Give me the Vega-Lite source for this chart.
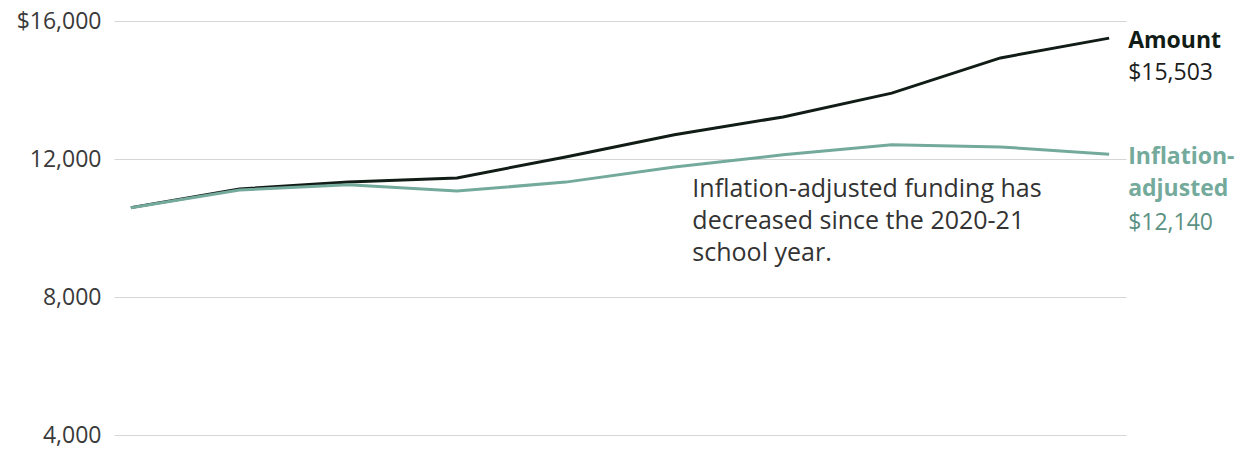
{
  "$schema": "https://vega.github.io/schema/vega-lite/v6.json",
  "width": 1012,
  "height": 414,
  "autosize": {"type": "none"},
  "padding": {"left": 114, "top": 21, "right": 113, "bottom": 14},
  "background": "white",
  "config": {
    "view": {"stroke": null},
    "font": "Open Sans",
    "text": {"font": "Open Sans"}
  },
  "data": {
    "values": [
      {"year": "2013-14", "series": "Amount", "value": 10590},
      {"year": "2014-15", "series": "Amount", "value": 11130},
      {"year": "2015-16", "series": "Amount", "value": 11330},
      {"year": "2016-17", "series": "Amount", "value": 11450},
      {"year": "2017-18", "series": "Amount", "value": 12060},
      {"year": "2018-19", "series": "Amount", "value": 12700},
      {"year": "2019-20", "series": "Amount", "value": 13220},
      {"year": "2020-21", "series": "Amount", "value": 13910},
      {"year": "2021-22", "series": "Amount", "value": 14930},
      {"year": "2022-23", "series": "Amount", "value": 15503},
      {"year": "2013-14", "series": "Inflation-adjusted", "value": 10590},
      {"year": "2014-15", "series": "Inflation-adjusted", "value": 11100},
      {"year": "2015-16", "series": "Inflation-adjusted", "value": 11250},
      {"year": "2016-17", "series": "Inflation-adjusted", "value": 11070},
      {"year": "2017-18", "series": "Inflation-adjusted", "value": 11330},
      {"year": "2018-19", "series": "Inflation-adjusted", "value": 11770},
      {"year": "2019-20", "series": "Inflation-adjusted", "value": 12120},
      {"year": "2020-21", "series": "Inflation-adjusted", "value": 12410},
      {"year": "2021-22", "series": "Inflation-adjusted", "value": 12350},
      {"year": "2022-23", "series": "Inflation-adjusted", "value": 12140}
    ]
  },
  "encoding": {
    "x": {
      "field": "year",
      "type": "ordinal",
      "scale": {"type": "point", "padding": 0.155},
      "axis": null
    },
    "y": {
      "field": "value",
      "type": "quantitative",
      "scale": {"domain": [4000, 16000], "nice": false, "zero": false},
      "axis": {
        "values": [4000, 8000, 12000, 16000],
        "labelExpr": "datum.value == 16000 ? '$16,000' : format(datum.value, ',')",
        "domain": false,
        "ticks": false,
        "grid": true,
        "gridColor": "#d6d6d6",
        "gridWidth": 1,
        "labelFont": "Open Sans",
        "labelFontSize": 23,
        "labelColor": "#3a3a3a",
        "labelPadding": 13,
        "title": null
      }
    }
  },
  "layer": [
    {
      "mark": {"type": "line", "strokeWidth": 3},
      "encoding": {
        "color": {
          "field": "series",
          "type": "nominal",
          "scale": {"domain": ["Inflation-adjusted", "Amount"], "range": ["#74aa9b", "#111c16"]},
          "legend": null
        },
        "order": {"field": "year"}
      }
    },
    {
      "transform": [
        {"filter": "datum.year == '2022-23'"},
        {"calculate": "datum.series == 'Amount' ? 'Amount' : 'Inflation-\\nadjusted'", "as": "label"}
      ],
      "mark": {"type": "text", "align": "left", "baseline": "middle", "dx": 19, "dy": 3, "fontSize": 23, "fontWeight": "bold", "lineBreak": "\n", "lineHeight": 32},
      "encoding": {
        "text": {"field": "label"},
        "color": {
          "field": "series",
          "type": "nominal",
          "scale": {"domain": ["Inflation-adjusted", "Amount"], "range": ["#5b9183", "#111c16"]},
          "legend": null
        }
      }
    },
    {
      "transform": [{"filter": "datum.year == '2022-23' && datum.series == 'Amount'"}],
      "mark": {"type": "text", "align": "left", "baseline": "middle", "dx": 19, "dy": 35, "fontSize": 23, "color": "#1d1d1d"},
      "encoding": {"text": {"field": "value", "type": "quantitative", "format": "$,.0f"}}
    },
    {
      "transform": [{"filter": "datum.year == '2022-23' && datum.series == 'Inflation-adjusted'"}],
      "mark": {"type": "text", "align": "left", "baseline": "middle", "dx": 19, "dy": 69, "fontSize": 23, "color": "#5b9183"},
      "encoding": {"text": {"field": "value", "type": "quantitative", "format": "$,.0f"}}
    },
    {
      "transform": [{"filter": "datum.year == '2018-19' && datum.series == 'Inflation-adjusted'"}],
      "mark": {
        "type": "text",
        "align": "left",
        "baseline": "top",
        "dx": 18,
        "fontSize": 25,
        "lineHeight": 32,
        "color": "#333333",
        "text": ["Inflation-adjusted funding has", "decreased since the 2020-21", "school year."]
      },
      "encoding": {
        "x": {"datum": "2018-19"},
        "y": {"datum": 11470}
      }
    }
  ]
}
